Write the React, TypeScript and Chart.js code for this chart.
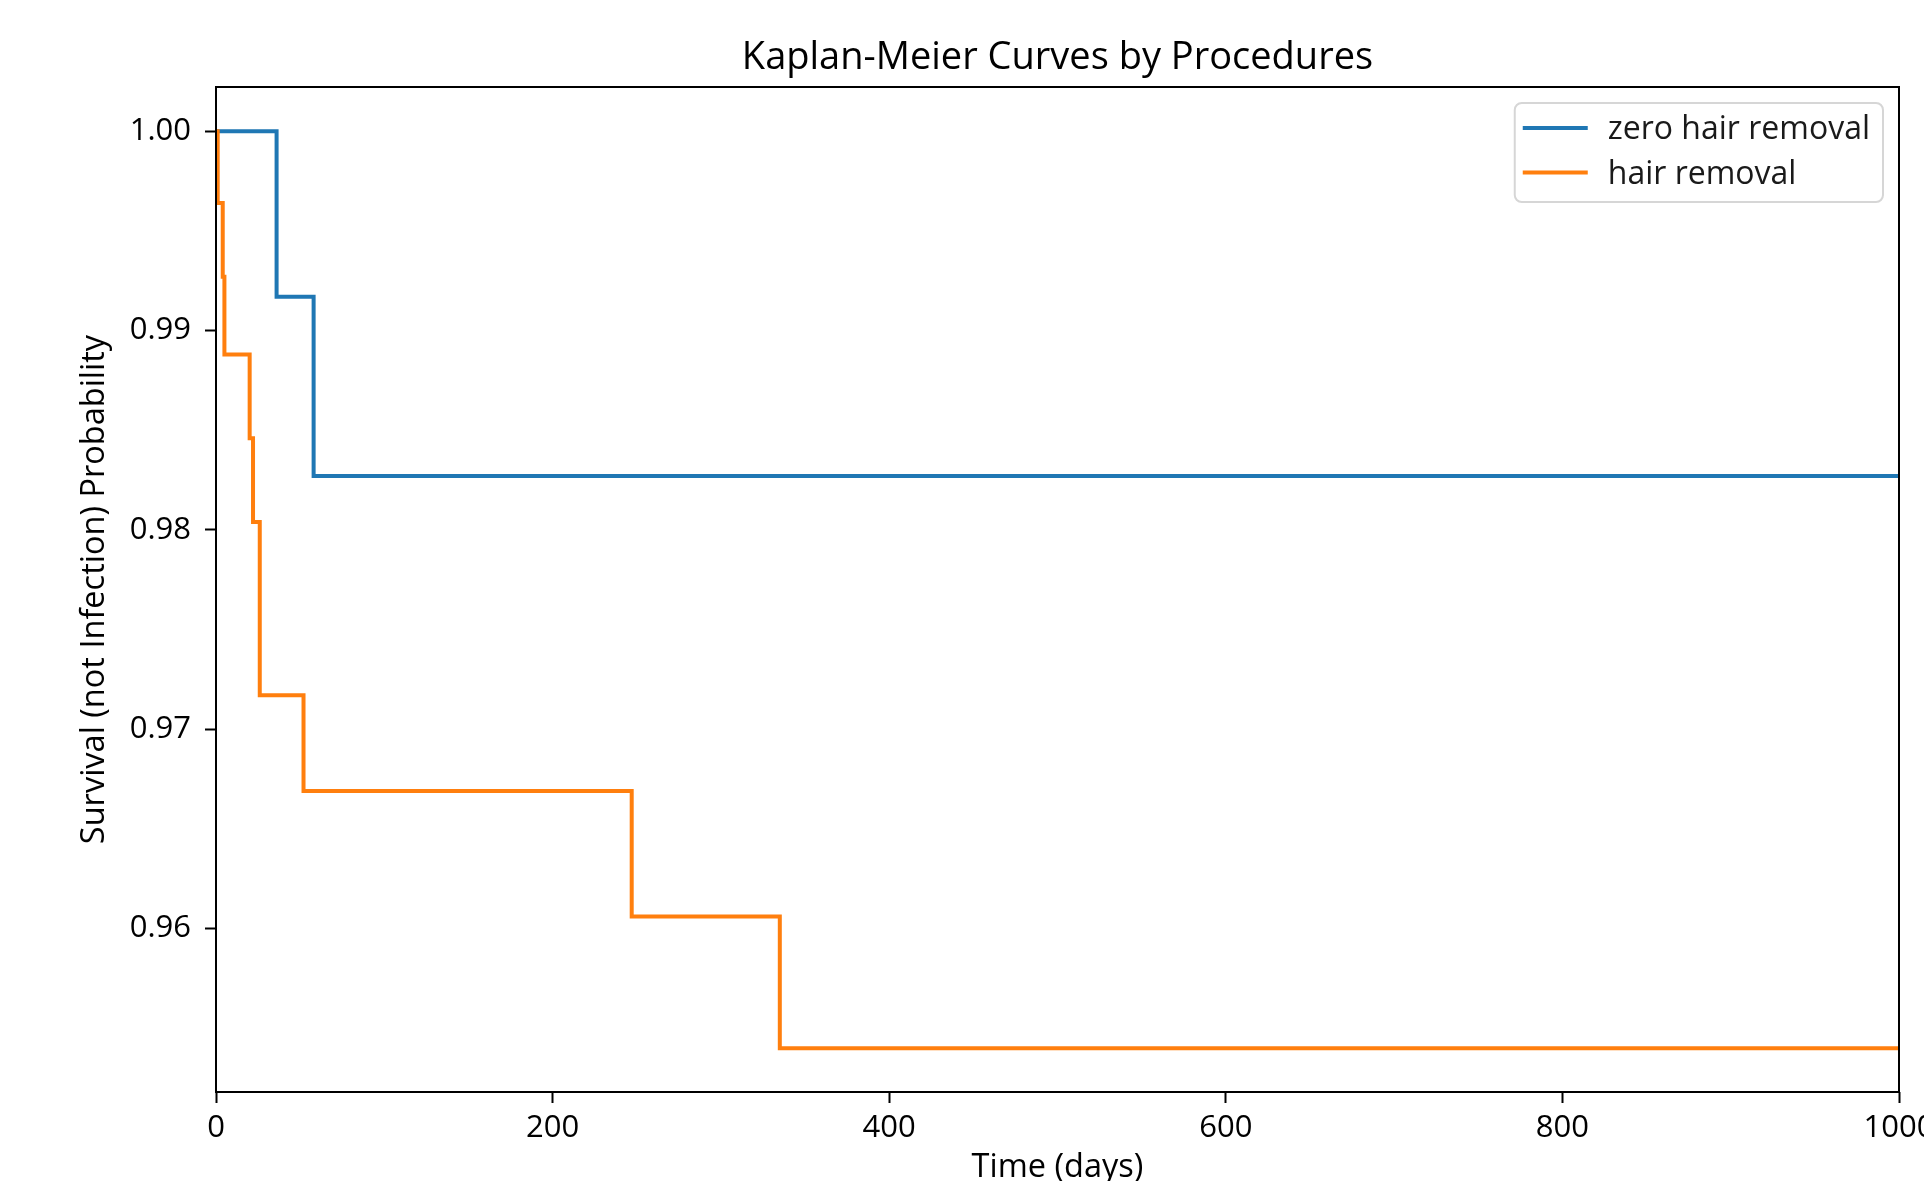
import React, { useEffect, useRef } from "react";
import { Chart, registerables } from "chart.js";

Chart.register(...registerables);

// ---- Data ----
const seriesLabels = ["zero hair removal", "hair removal"];
const seriesColors = ["#1f77b4", "#ff7f0e"];

const zeroTimes = [0, 36, 58, 1000];
const zeroSurvival = [1.0, 0.9917, 0.9827, 0.9827];

const hairTimes = [0, 1, 4, 5, 20, 22, 26, 52, 247, 335, 1000];
const hairSurvival = [1.0, 0.9964, 0.9927, 0.9888, 0.9846, 0.9804, 0.9717, 0.9669, 0.9606, 0.954, 0.954];

const xTicks = [0, 200, 400, 600, 800, 1000];
const yTicks = [0.96, 0.97, 0.98, 0.99, 1.0];

const titleText = "Kaplan-Meier Curves by Procedures";
const xTitle = "Time (days)";
const yTitle = "Survival (not Infection) Probability";

const FONT = "'Open Sans', 'Noto Sans', sans-serif";
const TICK_SIZE = 31;
const LABEL_SIZE = 32.5;
const LEGEND_SIZE = 32;
const TITLE_SIZE = 38;

const spinePlugin = {
  id: "spines",
  afterDatasetsDraw(chart: any) {
    const { ctx, chartArea } = chart;
    ctx.save();
    ctx.strokeStyle = "#000";
    ctx.lineWidth = 2;
    ctx.strokeRect(chartArea.left, chartArea.top, chartArea.right - chartArea.left, chartArea.bottom - chartArea.top);
    ctx.restore();
  },
};

const legendPlugin = {
  id: "kmLegend",
  afterDraw(chart: any) {
    const { ctx, chartArea } = chart;
    const ds = chart.data.datasets;
    ctx.save();
    ctx.font = `${LEGEND_SIZE}px ${FONT}`;
    const textW = Math.max(...ds.map((d: any) => ctx.measureText(d.label).width));
    const padL = 8, handleW = 65, gap = 20, padR = 13;
    const w = padL + handleW + gap + textW + padR;
    const h = 99;
    const right = chartArea.right - 16;
    const top = chartArea.top + 16;
    const left = right - w;
    ctx.beginPath();
    (ctx as any).roundRect(left, top, w, h, 7);
    ctx.fillStyle = "rgba(255,255,255,0.8)";
    ctx.fill();
    ctx.strokeStyle = "#d6d6d6";
    ctx.lineWidth = 2;
    ctx.stroke();
    ds.forEach((d: any, i: number) => {
      const cy = top + 25 + i * 44.5;
      ctx.beginPath();
      ctx.moveTo(left + padL, cy);
      ctx.lineTo(left + padL + handleW, cy);
      ctx.strokeStyle = d.borderColor;
      ctx.lineWidth = 4;
      ctx.stroke();
      ctx.fillStyle = "#1a1a1a";
      ctx.textAlign = "left";
      ctx.textBaseline = "alphabetic";
      ctx.fillText(d.label, left + padL + handleW + gap, cy + 11);
    });
    ctx.restore();
  },
};

export default function App() {
  const canvasRef = useRef<HTMLCanvasElement | null>(null);

  useEffect(() => {
    const canvas = canvasRef.current;
    if (!canvas) return;
    const tickFont = { family: FONT, size: TICK_SIZE, weight: "normal" as const };
    const chart = new Chart(canvas, {
      type: "line",
      data: {
        datasets: [
          {
            label: seriesLabels[0],
            data: zeroTimes.map((t, i) => ({ x: t, y: zeroSurvival[i] })),
            borderColor: seriesColors[0],
            backgroundColor: seriesColors[0],
            borderWidth: 4,
            stepped: true,
            pointRadius: 0,
            fill: false,
            order: 1,
          },
          {
            label: seriesLabels[1],
            data: hairTimes.map((t, i) => ({ x: t, y: hairSurvival[i] })),
            borderColor: seriesColors[1],
            backgroundColor: seriesColors[1],
            borderWidth: 4,
            stepped: true,
            pointRadius: 0,
            fill: false,
            order: 0,
          },
        ],
      },
      options: {
        animation: false,
        responsive: false,
        devicePixelRatio: 1,
        layout: { padding: { left: 0, right: 25, top: 0, bottom: 0 } },
        plugins: {
          legend: { display: false },
          tooltip: { enabled: false },
          title: {
            display: true,
            fullSize: false,
            text: titleText,
            color: "#000",
            font: { family: FONT, size: TITLE_SIZE, weight: "normal", lineHeight: 1.2 },
            padding: { top: 35.5, bottom: 5.9 },
          },
        },
        scales: {
          x: {
            type: "linear",
            min: 0,
            max: 1000,
            afterBuildTicks: (s: any) => {
              s.ticks = xTicks.map((v) => ({ value: v }));
            },
            afterFit: (s: any) => {
              s.height = 89;
              s.paddingLeft = 0;
              s.paddingRight = 0;
            },
            grid: { drawOnChartArea: false, drawTicks: true, tickLength: 11, tickWidth: 2, tickColor: "#000" },
            border: { display: false },
            ticks: {
              font: tickFont,
              color: "#000",
              padding: 7,
              maxRotation: 0,
              autoSkip: false,
              callback: (v: any) => String(v),
            },
            title: {
              display: true,
              text: xTitle,
              color: "#000",
              font: { family: FONT, size: LABEL_SIZE, weight: "normal", lineHeight: 0.8 },
              padding: { top: 0, bottom: 0 },
            },
          },
          y: {
            type: "linear",
            min: 0.9518,
            max: 1.00222,
            afterBuildTicks: (s: any) => {
              s.ticks = yTicks.map((v) => ({ value: v }));
            },
            afterFit: (s: any) => {
              s.width = 216;
              s.paddingTop = 0;
              s.paddingBottom = 0;
            },
            grid: { drawOnChartArea: false, drawTicks: true, tickLength: 11, tickWidth: 2, tickColor: "#000" },
            border: { display: false },
            ticks: {
              font: tickFont,
              color: "#000",
              padding: 14,
              autoSkip: false,
              callback: (v: any) => Number(v).toFixed(2),
            },
            title: {
              display: true,
              text: yTitle,
              color: "#000",
              font: { family: FONT, size: LABEL_SIZE, weight: "normal", lineHeight: 1 },
              padding: { top: 78.5, bottom: 0 },
            },
          },
        },
      },
      plugins: [spinePlugin, legendPlugin],
    });
    return () => chart.destroy();
  }, []);

  return (
    <div style={{ position: "fixed", left: 0, top: 0, width: 1924, height: 1181, background: "#fff" }}>
      <canvas ref={canvasRef} width={1924} height={1181} style={{ display: "block", width: 1924, height: 1181 }} />
    </div>
  );
}
